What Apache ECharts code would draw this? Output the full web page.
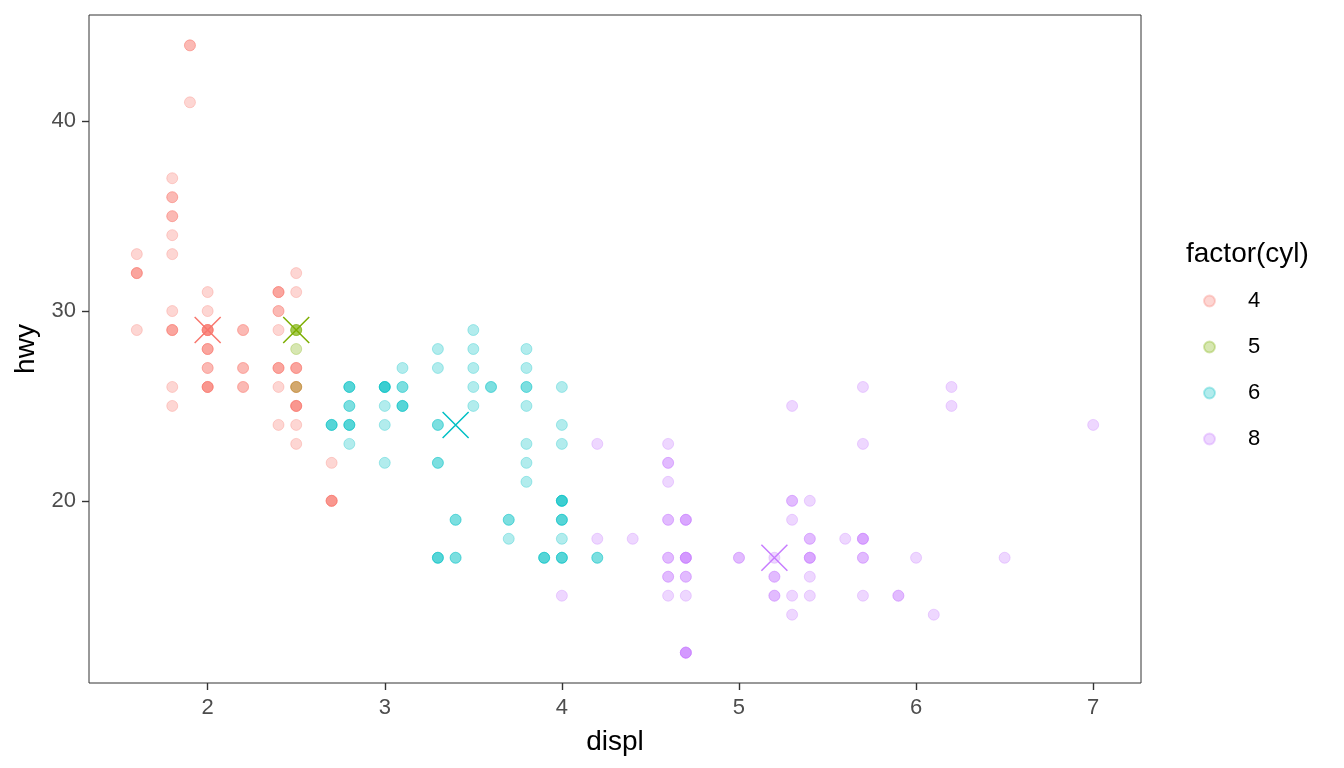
<!DOCTYPE html>
<html>
<head>
<meta charset="utf-8">
<script src="https://cdn.jsdelivr.net/npm/echarts@6/dist/echarts.min.js"></script>
<style>
  html, body { margin: 0; padding: 0; background: #fff; }
  #chart { width: 1344px; height: 768px; }
</style>
</head>
<body>
<div id="chart"></div>
<script>
// points: [displ, hwy, how many cars sit on that spot]
var cyl4 = [
  [1.6,33,1],[1.6,32,3],[1.6,29,1],
  [1.8,37,1],[1.8,36,2],[1.8,35,2],[1.8,34,1],[1.8,33,1],[1.8,30,1],[1.8,29,3],[1.8,26,1],[1.8,25,1],
  [1.9,44,2],[1.9,41,1],
  [2.0,31,1],[2.0,30,1],[2.0,29,5],[2.0,28,3],[2.0,27,2],[2.0,26,4],
  [2.2,29,2],[2.2,27,2],[2.2,26,2],
  [2.4,31,3],[2.4,30,2],[2.4,29,1],[2.4,27,3],[2.4,26,1],[2.4,24,1],
  [2.5,32,1],[2.5,31,1],[2.5,27,3],[2.5,26,3],[2.5,25,4],[2.5,24,1],[2.5,23,1],
  [2.7,22,1],[2.7,20,4]
];
var cyl5 = [
  [2.5,29,3],[2.5,28,1],[2.5,26,1]
];
var cyl6 = [
  [2.7,24,3],
  [2.8,26,3],[2.8,25,2],[2.8,24,3],[2.8,23,1],
  [3.0,26,4],[3.0,25,1],[3.0,24,1],[3.0,22,1],
  [3.1,27,1],[3.1,26,2],[3.1,25,3],
  [3.3,28,1],[3.3,27,1],[3.3,24,2],[3.3,22,2],[3.3,17,3],
  [3.4,19,2],[3.4,17,2],
  [3.5,29,1],[3.5,28,1],[3.5,27,1],[3.5,26,1],[3.5,25,1],
  [3.6,26,2],
  [3.7,19,2],[3.7,18,1],
  [3.8,28,1],[3.8,27,1],[3.8,26,2],[3.8,25,1],[3.8,23,1],[3.8,22,1],[3.8,21,1],
  [3.9,17,3],
  [4.0,26,1],[4.0,24,1],[4.0,23,1],[4.0,20,4],[4.0,19,3],[4.0,18,1],[4.0,17,3],
  [4.2,17,2]
];
var cyl8 = [
  [4.0,15,1],
  [4.2,23,1],[4.2,18,1],
  [4.4,18,1],
  [4.6,23,1],[4.6,22,2],[4.6,21,1],[4.6,19,2],[4.6,17,2],[4.6,16,2],[4.6,15,1],
  [4.7,19,3],[4.7,17,4],[4.7,16,2],[4.7,15,1],[4.7,12,4],
  [5.0,17,2],
  [5.2,17,1],[5.2,16,2],[5.2,15,2],
  [5.3,25,1],[5.3,20,2],[5.3,19,1],[5.3,15,1],[5.3,14,1],
  [5.4,20,1],[5.4,18,2],[5.4,17,3],[5.4,16,1],[5.4,15,1],
  [5.6,18,1],
  [5.7,26,1],[5.7,23,1],[5.7,18,3],[5.7,17,2],[5.7,15,1],
  [5.9,15,2],
  [6.0,17,1],
  [6.1,14,1],
  [6.2,26,1],[6.2,25,1],
  [6.5,17,1],
  [7.0,24,1]
];

// group medians (the big crosses)
var groupNames = ['4', '5', '6', '8'];
var groupColors = ['#F8766D', '#7CAE00', '#00BFC4', '#C77CFF'];
var medianDispl = [2.0, 2.5, 3.4, 5.2];
var medianHwy = [29, 29, 24, 17];

var xTicks = [2, 3, 4, 5, 6, 7];
var yTicks = [20, 30, 40];

var FONT = "'Liberation Sans', Arial, sans-serif";

function expand(rows) {
    var out = [];
    for (var i = 0; i < rows.length; i++) {
        for (var k = 0; k < rows[i][2]; k++) {
            out.push([rows[i][0], rows[i][1]]);
        }
    }
    return out;
}

var groups = [cyl4, cyl5, cyl6, cyl8];
var series = [];
for (var g = 0; g < groups.length; g++) {
    series.push({
        name: groupNames[g],
        type: 'scatter',
        symbol: 'circle',
        symbolSize: 11,
        data: expand(groups[g]),
        // stroke over the fill gives the faint ring ggplot's points have
        itemStyle: { color: groupColors[g], opacity: 0.3, borderColor: groupColors[g], borderWidth: 1 },
        emphasis: { disabled: true }
    });
}

var medianData = [];
for (var i = 0; i < medianDispl.length; i++) {
    medianData.push({
        value: [medianDispl[i], medianHwy[i]],
        itemStyle: { color: 'none', borderColor: groupColors[i], borderWidth: 1.5, opacity: 1 }
    });
}
series.push({
    name: 'median',
    type: 'scatter',
    symbol: 'path://M0,0L10,10M10,0L0,10',
    symbolSize: 26,
    data: medianData,
    z: 5,
    emphasis: { disabled: true }
});

var chart = echarts.init(document.getElementById('chart'));
chart.setOption({
    animation: false,
    backgroundColor: '#fff',
    grid: {
        left: 89, right: 203, top: 15, bottom: 85,
        show: true, borderColor: '#333', borderWidth: 1, backgroundColor: 'transparent'
    },
    xAxis: {
        type: 'value',
        min: 1.33, max: 7.27,
        name: 'displ',
        nameLocation: 'middle',
        nameGap: 45,
        nameTextStyle: { fontSize: 28, color: '#000', fontFamily: FONT },
        axisLine: { show: false },
        splitLine: { show: false },
        axisTick: { show: true, length: 7, customValues: xTicks, lineStyle: { color: '#333', width: 1.4 } },
        axisLabel: { customValues: xTicks, fontSize: 22, color: '#4D4D4D', fontFamily: FONT, margin: 14 }
    },
    yAxis: {
        type: 'value',
        min: 10.4, max: 45.6,
        name: 'hwy',
        nameLocation: 'middle',
        nameGap: 48,
        nameTextStyle: { fontSize: 28, color: '#000', fontFamily: FONT },
        axisLine: { show: false },
        splitLine: { show: false },
        axisTick: { show: true, length: 7, customValues: yTicks, lineStyle: { color: '#333', width: 1.4 } },
        axisLabel: { customValues: yTicks, fontSize: 22, color: '#4D4D4D', fontFamily: FONT, margin: 13 }
    },
    legend: {
        orient: 'vertical',
        left: 1203,
        top: 290,
        padding: 0,
        itemWidth: 11,
        itemHeight: 11,
        itemGap: 24,
        icon: 'circle',
        selectedMode: false,
        textStyle: { fontSize: 22, color: '#000', fontFamily: FONT, padding: [0, 0, 0, 28] },
        data: [
            { name: '4', itemStyle: { opacity: 0.3 } },
            { name: '5', itemStyle: { opacity: 0.3 } },
            { name: '6', itemStyle: { opacity: 0.3 } },
            { name: '8', itemStyle: { opacity: 0.3 } }
        ]
    },
    graphic: [{
        type: 'text',
        left: 1186,
        top: 240,
        style: { text: 'factor(cyl)', fontSize: 28, fill: '#000', fontFamily: FONT }
    }],
    series: series
});
</script>
</body>
</html>
